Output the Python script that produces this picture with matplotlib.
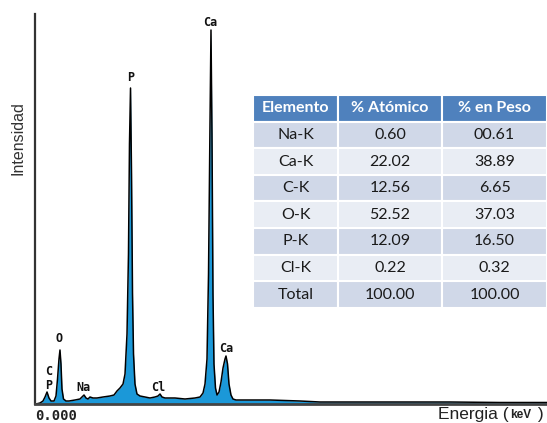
import matplotlib
matplotlib.use('Agg')
import matplotlib.pyplot as plt

# EDS spectrum (energy in keV, intensity in arbitrary counts)
energy = [0.021, 0.105, 0.168, 0.211, 0.253, 0.295, 0.337, 0.400, 0.442, 0.474,
          0.505, 0.526, 0.547, 0.568, 0.600, 0.653, 0.716, 0.842, 0.947, 0.989,
          1.032, 1.074, 1.116, 1.158, 1.221, 1.305, 1.432, 1.579, 1.663, 1.726,
          1.789, 1.853, 1.895, 1.937, 1.968, 1.989, 2.011, 2.032, 2.053, 2.074,
          2.105, 2.147, 2.211, 2.316, 2.421, 2.526, 2.589, 2.632, 2.674, 2.737,
          2.947, 3.158, 3.368, 3.474, 3.537, 3.579, 3.621, 3.653, 3.684, 3.705,
          3.726, 3.747, 3.768, 3.800, 3.832, 3.874, 3.916, 3.958, 4.000, 4.021,
          4.053, 4.084, 4.126, 4.168, 4.232, 4.526, 4.947, 5.579, 6.000, 6.632,
          7.684, 8.737, 9.789, 10.779]
counts = [0, 1, 3, 7, 12, 6, 3, 3, 8, 25,
          45, 54, 40, 15, 5, 3, 3, 4, 5, 7,
          9, 6, 5, 7, 6, 6, 7, 8, 9, 13,
          16, 20, 30, 70, 150, 260, 316, 230, 110, 50,
          20, 10, 8, 7, 6, 7, 8, 10, 7, 6,
          6, 5, 6, 7, 11, 20, 45, 130, 280, 374,
          270, 110, 40, 16, 9, 12, 22, 36, 45, 48,
          40, 20, 9, 5, 4, 4, 4, 3, 2, 2,
          2, 2, 1.5, 1.5]

# peak labels
peak_names = ['C', 'P', 'O', 'Na', 'P', 'Cl', 'Ca', 'Ca']
peak_keV = [0.284, 0.284, 0.505, 1.03, 2.02, 2.59, 3.695, 4.03]
label_y = [26, 12, 59, 10, 320, 10, 375, 49]

# composition table
elements = ['Na-K', 'Ca-K', 'C-K', 'O-K', 'P-K', 'Cl-K', 'Total']
atomic = ['0.60', '22.02', '12.56', '52.52', '12.09', '0.22', '100.00']
weight = ['00.61', '38.89', '6.65', '37.03', '16.50', '0.32', '100.00']
headers = ['Elemento', '% Atómico', '% en Peso']

W, H = 547, 423
fig = plt.figure(figsize=(W / 100, H / 100), dpi=100)

ax = fig.add_axes([35 / W, (H - 404) / H, 512 / W, 390 / H])
ax.fill_between(energy, counts, 0, color='#1b98d8', lw=0)
ax.plot(energy, counts, color='black', lw=1.1)
ax.set_xlim(0, 10.779)
ax.set_ylim(0, 390)
ax.set_xticks([])
ax.set_yticks([])
for s in ['top', 'right']:
    ax.spines[s].set_visible(False)
ax.spines['left'].set_color('#333333')
ax.spines['left'].set_linewidth(1.6)
ax.spines['bottom'].set_color('#444444')
ax.spines['bottom'].set_linewidth(2)

for name, e, y in zip(peak_names, peak_keV, label_y):
    ax.text(e, y, name, ha='center', va='bottom', family='DejaVu Sans Mono',
            fontweight='bold', fontsize=8.5, color='#111111')

fig.text(18 / W, 1 - 138 / H, 'Intensidad', rotation=90, ha='center', va='center',
         family='Liberation Sans', fontsize=11.5, color='#333333')
fig.text(35 / W, 1 - 420 / H, '0.000', ha='left', va='baseline',
         family='DejaVu Sans Mono', fontweight='bold', fontsize=10, color='#222222')
fig.text(438 / W, 1 - 419 / H, 'Energia (', ha='left', va='baseline',
         family='Liberation Sans', fontsize=12.5, color='#222222')
fig.text(510 / W, 1 - 418 / H, 'keV', ha='left', va='baseline',
         family='Liberation Sans', fontweight='bold', fontsize=8.5, color='#222222')
fig.text(533 / W, 1 - 419 / H, ' )', ha='left', va='baseline',
         family='Liberation Sans', fontsize=12.5, color='#222222')

# table
tax = fig.add_axes([253 / W, (H - 308) / H, 294 / W, 213 / H])
tax.axis('off')
rows = [[a, b, c] for a, b, c in zip(elements, atomic, weight)]
tbl = tax.table(cellText=rows, colLabels=headers, cellLoc='center',
                colWidths=[85 / 294, 104 / 294, 105 / 294], bbox=[0, 0, 1, 1])
tbl.auto_set_font_size(False)
for (r, c), cell in tbl.get_celld().items():
    cell.set_edgecolor('white')
    cell.set_linewidth(1.5)
    if r == 0:
        cell.set_facecolor('#4f81bd')
        cell.set_text_props(color='white', fontweight='bold', family='Lato', fontsize=11.5)
    else:
        cell.set_facecolor('#d0d8e8' if r % 2 == 1 else '#e9edf4')
        cell.set_text_props(color='#1a1a1a', family='Lato', fontsize=11.5)

plt.savefig('out.png', dpi=100)
